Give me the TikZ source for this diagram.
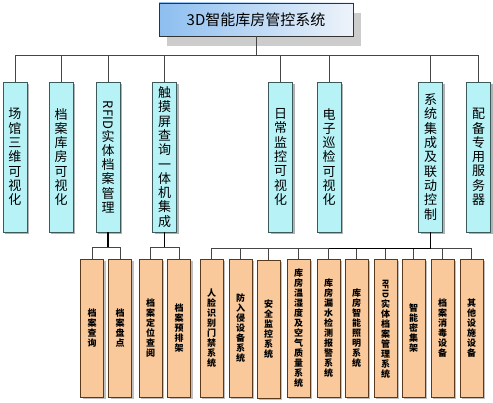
\documentclass[tikz,border=0pt]{standalone}
\usepackage{fontspec}
\usepackage{graphicx}
\setmainfont{Noto Sans CJK SC}
\usetikzlibrary{shadows}
\definecolor{lonefill}{HTML}{B6F2F6}
\definecolor{loneborder}{HTML}{3C5A5A}
\definecolor{ltwofill}{HTML}{F9C99B}
\definecolor{ltwoborder}{HTML}{5A3A1A}
\definecolor{topleft}{HTML}{8CBEF0}
\definecolor{topright}{HTML}{EEF3FA}
\definecolor{linegray}{HTML}{454545}
\begin{document}
\begin{tikzpicture}[x=1pt,y=-1pt,
  topbox/.style={draw=black!80, line width=0.9pt, left color=topleft, right color=topright,
    minimum width=194pt, minimum height=33pt, inner sep=0pt,
    font=\fontsize{15}{17}\selectfont,
    drop shadow={shadow xshift=8pt, shadow yshift=-10pt, fill=black!20, opacity=1}},
  lone/.style={draw=loneborder, line width=0.8pt, fill=lonefill,
    minimum width=24pt, minimum height=150pt, inner sep=0pt, align=center,
    font=\fontsize{13}{14.3}\selectfont,
    drop shadow={shadow xshift=2pt, shadow yshift=-2pt, fill=black!30, opacity=1}},
  ltwo/.style={draw=ltwoborder, line width=0.8pt, fill=ltwofill,
    minimum width=23pt, minimum height=138pt, inner sep=0pt, align=center,
    font=\fontsize{9}{10}\selectfont\bfseries,
    drop shadow={shadow xshift=2pt, shadow yshift=-2pt, fill=black!25, opacity=1}},
  conn/.style={draw=linegray, line width=0.8pt},
  connd/.style={draw=black, line width=1.3pt}]
\useasboundingbox[fill=white] (0,0) rectangle (493,403);

% top
\node[topbox] (top) at (256,19.5) {3D智能库房管控系统};

% level 1
\node[lone] (b1) at (15,157) {场\\馆\\三\\维\\可\\视\\化};
\node[lone] (b2) at (61,157) {档\\案\\库\\房\\可\\视\\化};
\node[lone] (b3) at (108,157) {\rotatebox[origin=c]{-90}{RFID}\\实\\体\\档\\案\\管\\理};
\node[lone] (b4) at (164.5,157) {触\\摸\\屏\\查\\询\\一\\体\\机\\集\\成};
\node[lone] (b5) at (280.5,157) {日\\常\\监\\控\\可\\视\\化};
\node[lone] (b6) at (329,157) {电\\子\\巡\\检\\可\\视\\化};
\node[lone] (b7) at (430.5,157) {系\\统\\集\\成\\及\\联\\动\\控\\制};
\node[lone] (b8) at (478.5,157) {配\\备\\专\\用\\服\\务\\器};

% level 2 left
\node[ltwo] (c1) at (92,328) {档\\案\\查\\询};
\node[ltwo] (c2) at (120,328) {档\\案\\盘\\点};
\node[ltwo] (c3) at (150.5,328) {档\\案\\定\\位\\查\\阅};
\node[ltwo] (c4) at (179,328) {档\\案\\预\\排\\架};

% level 2 right
\node[ltwo] (d1) at (211.5,328.5) {人\\脸\\识\\别\\门\\禁\\系\\统};
\node[ltwo] (d2) at (240.5,328.5) {防\\入\\侵\\设\\备\\系\\统};
\node[ltwo] (d3) at (268.5,329.5) {安\\全\\监\\控\\系\\统};
\node[ltwo] (d4) at (298.5,328.5) {库\\房\\温\\湿\\度\\及\\空\\气\\质\\量\\系\\统};
\node[ltwo] (d5) at (328.5,328.5) {库\\房\\漏\\水\\检\\测\\报\\警\\系\\统};
\node[ltwo] (d6) at (356.5,328.5) {库\\房\\智\\能\\照\\明\\系\\统};
\node[ltwo] (d7) at (385.5,328.5) {\rotatebox[origin=c]{-90}{\fontsize{8}{9}\selectfont RFID}\\实\\体\\档\\案\\管\\理\\系\\统};
\node[ltwo] (d8) at (413.5,328.5) {智\\能\\密\\集\\架};
\node[ltwo] (d9) at (442.5,328.5) {档\\案\\消\\毒\\设\\备};
\node[ltwo] (d10) at (471.5,328.5) {其\\他\\设\\施\\设\\备};

% connectors top -> level 1
\draw[conn] (top.south) -- ++(0,19) coordinate (jt);
\foreach \n in {b1,b2,b3,b4,b5,b6,b7,b8}
  \draw[conn] (\n.north) |- (jt);

% b3 -> c1,c2
\draw[connd] (b3.south) -- ++(0,15) coordinate (j3);
\draw[conn] (c1.north) |- (j3);
\draw[conn] (c2.north) |- (j3);

% b4 -> c3,c4
\draw[connd] (b4.south) -- ++(0,15) coordinate (j4);
\draw[conn] (c3.north) |- (j4);
\draw[conn] (c4.north) |- (j4);

% b7 -> d1..d10
\draw[connd] (b7.south) -- ++(0,16) coordinate (j7);
\foreach \n in {d1,d2,d3,d4,d5,d6,d7,d8,d9,d10}
  \draw[conn] (\n.north) |- (j7);
\draw[connd] (j7) -- (j7 -| d5.north);
\end{tikzpicture}
\end{document}
